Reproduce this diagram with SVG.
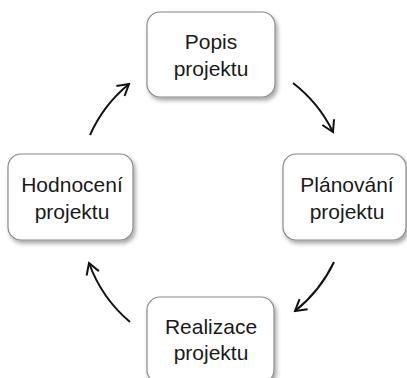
<svg xmlns="http://www.w3.org/2000/svg" width="407" height="378" viewBox="0 0 407 378">
  <style>
    .box { fill: #ffffff; stroke: #8a8a8a; stroke-width: 1.2; filter: url(#shadow); }
    .label { font-family: "Liberation Sans", Arial, sans-serif; font-size: 21px; fill: #1a1a1a; text-anchor: middle; }
    .arc { fill: none; stroke: #111111; stroke-width: 2; marker-end: url(#head); }
  </style>
  <defs>
    <filter id="shadow" x="-20%" y="-20%" width="150%" height="150%">
      <feDropShadow dx="2" dy="3" stdDeviation="2" flood-color="#000000" flood-opacity="0.35"/>
    </filter>
    <marker id="head" markerUnits="userSpaceOnUse" viewBox="-13 -8 15 16" refX="0" refY="0" markerWidth="15" markerHeight="16" orient="auto">
      <path d="M-11,-6.5 L0,0 L-11,6.5" fill="none" stroke="#111111" stroke-width="2" stroke-linejoin="miter"/>
    </marker>
  </defs>
  <rect width="407" height="378" fill="#ffffff"/>

  <g id="connectors">
    <path class="arc" d="M 90 135 A 139 139 0 0 1 129 84"/>
    <path class="arc" d="M 293 83 A 139 139 0 0 1 333 132"/>
    <path class="arc" d="M 334 262 A 139 139 0 0 1 295 311"/>
    <path class="arc" d="M 130 322 A 139 139 0 0 1 89 263"/>
  </g>

  <g id="node-popis">
    <rect class="box" x="147" y="12" width="128" height="85" rx="13"/>
    <text class="label" x="211" y="49">Popis</text>
    <text class="label" x="211" y="76">projektu</text>
  </g>

  <g id="node-planovani">
    <rect class="box" x="283" y="154" width="123" height="86" rx="13"/>
    <text class="label" x="347" y="192">Plánování</text>
    <text class="label" x="347" y="219">projektu</text>
  </g>

  <g id="node-realizace">
    <rect class="box" x="147" y="297" width="127" height="86" rx="13"/>
    <text class="label" x="211" y="334">Realizace</text>
    <text class="label" x="211" y="360">projektu</text>
  </g>

  <g id="node-hodnoceni">
    <rect class="box" x="8" y="154" width="125" height="86" rx="13"/>
    <text class="label" x="72" y="192">Hodnocení</text>
    <text class="label" x="72" y="219">projektu</text>
  </g>
</svg>
